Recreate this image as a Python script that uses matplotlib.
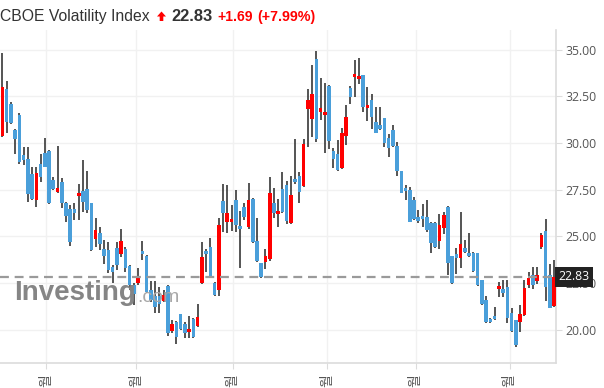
import matplotlib
matplotlib.use("Agg")
import matplotlib.pyplot as plt
from matplotlib.patches import Polygon
import numpy as np

# ---------------- data ----------------
opens = [30.38, 32.88, 32.08, 30.69, 31.49, 29.35, 29.13, 28.33, 26.95, 28.87,
         29.44, 29.56, 28.01, 27.38, 27.90, 26.78, 26.46, 26.46, 27.17, 27.42,
         27.53, 26.78, 24.87, 25.19, 24.31, 24.26, 23.37, 24.35, 24.03, 24.31,
         23.40, 22.40, 22.48, 24.17, 23.96, 22.12, 21.80, 21.81, 21.55, 22.33,
         19.94, 20.40, 20.83, 20.30, 19.85, 20.57, 20.21, 22.48, 24.22, 24.41,
         22.51, 22.12, 26.90, 25.78, 25.78, 26.94, 25.55, 26.58, 25.48, 26.99,
         24.76, 23.55, 23.63, 23.76, 26.79, 26.17, 27.51, 27.74, 25.69, 28.05,
         28.22, 27.71, 31.80, 31.26, 34.49, 31.67, 31.51, 33.05, 29.56, 29.40,
         28.64, 30.38, 32.92, 33.51, 33.44, 33.63, 31.88, 32.30, 31.13, 30.96,
         31.31, 30.24, 30.69, 29.83, 28.49, 27.60, 27.47, 26.94, 26.03, 26.08,
         26.04, 25.72, 25.72, 24.76, 25.42, 26.58, 23.94, 24.05, 23.85, 24.35,
         24.08, 24.12, 24.08, 22.65, 21.58, 20.55, 20.69, 22.16, 22.16, 22.30,
         20.87, 20.51, 20.39, 20.78, 22.39, 22.92, 22.62, 24.44, 25.30, 22.92,
         21.26]
highs = [34.80, 33.30, 32.20, 30.72, 31.60, 29.79, 29.76, 28.71, 28.69, 29.39,
         30.24, 29.62, 28.19, 29.83, 28.12, 26.83, 26.67, 26.76, 27.80, 29.08,
         28.49, 26.80, 25.96, 25.48, 24.78, 24.71, 23.45, 24.71, 25.37, 24.41,
         23.45, 22.50, 23.31, 24.74, 24.00, 22.62, 22.62, 22.30, 22.12, 22.39,
         20.51, 20.44, 20.85, 20.42, 20.73, 20.60, 21.35, 24.71, 24.30, 24.89,
         22.53, 25.96, 27.78, 27.74, 26.67, 27.47, 26.35, 26.76, 27.83, 27.02,
         25.96, 23.58, 24.30, 28.15, 27.57, 26.98, 28.45, 27.97, 28.22, 30.19,
         28.45, 30.19, 32.87, 34.17, 34.92, 33.46, 33.22, 33.08, 29.71, 30.15,
         30.78, 32.03, 33.05, 34.44, 34.53, 33.65, 33.01, 32.62, 31.94, 31.90,
         31.33, 30.46, 30.96, 30.05, 28.50, 27.74, 27.65, 27.12, 26.40, 26.71,
         26.94, 25.74, 25.74, 26.19, 26.31, 26.61, 23.96, 24.35, 26.28, 24.80,
         25.19, 24.17, 24.12, 22.67, 21.81, 20.60, 21.19, 22.56, 22.65, 22.65,
         21.14, 20.53, 21.31, 22.65, 23.10, 23.33, 23.33, 25.16, 25.92, 23.51,
         23.72]
lows = [30.30, 30.51, 31.01, 29.39, 28.85, 28.81, 26.85, 26.94, 26.55, 27.89,
        28.70, 26.74, 27.47, 27.33, 26.49, 25.74, 24.49, 25.87, 25.87, 26.28,
        26.23, 24.21, 24.44, 24.26, 23.51, 23.01, 22.51, 23.19, 23.90, 23.10,
        22.10, 21.31, 22.39, 23.75, 21.94, 21.49, 20.87, 20.90, 21.49, 19.67,
        19.83, 19.21, 19.98, 19.56, 19.53, 19.53, 20.15, 22.44, 23.10, 22.83,
        21.80, 21.80, 25.24, 25.19, 25.30, 25.24, 23.28, 25.87, 25.39, 24.62,
        23.63, 22.74, 23.23, 23.69, 25.96, 25.48, 26.26, 25.65, 25.65, 27.80,
        26.76, 27.62, 29.79, 30.33, 30.06, 31.22, 29.44, 29.65, 28.64, 28.51,
        28.60, 29.88, 32.06, 32.47, 33.14, 31.67, 31.19, 30.73, 30.51, 30.69,
        29.79, 29.26, 29.79, 28.24, 27.30, 26.94, 25.74, 25.87, 25.69, 25.51,
        25.24, 24.08, 24.35, 24.30, 25.12, 22.92, 22.44, 22.98, 23.28, 24.08,
        23.90, 23.10, 22.33, 21.31, 20.37, 20.37, 20.51, 21.76, 21.76, 20.37,
        19.88, 19.08, 19.88, 20.73, 22.21, 22.16, 22.44, 24.31, 21.55, 21.14,
        21.22]
closes = [32.98, 31.13, 31.05, 30.22, 28.99, 29.08, 27.28, 26.99, 28.37, 28.19,
          28.72, 26.76, 27.54, 27.58, 26.79, 26.10, 24.71, 26.23, 27.31, 26.85,
          26.40, 24.26, 25.32, 24.58, 23.94, 23.19, 23.10, 23.46, 24.74, 23.31,
          22.39, 21.90, 22.89, 24.03, 22.03, 21.58, 21.22, 21.35, 21.85, 19.83,
          20.30, 19.62, 20.05, 19.80, 19.98, 19.62, 20.66, 23.87, 24.05, 22.87,
          21.85, 25.60, 26.26, 26.26, 25.92, 25.60, 25.39, 26.04, 26.94, 24.71,
          23.69, 22.83, 23.94, 27.30, 26.23, 26.35, 26.31, 25.83, 27.21, 27.92,
          27.38, 29.94, 32.30, 32.62, 30.19, 31.85, 31.67, 30.12, 29.12, 28.55,
          30.51, 31.37, 32.47, 33.63, 33.58, 31.94, 32.03, 31.40, 30.54, 30.74,
          30.01, 29.74, 29.85, 28.51, 27.33, 27.44, 25.78, 25.90, 25.83, 25.90,
          25.33, 24.62, 24.41, 25.60, 26.14, 23.55, 22.51, 23.82, 24.57, 24.17,
          23.94, 23.15, 22.39, 21.35, 20.42, 20.42, 20.55, 22.30, 21.97, 20.63,
          19.92, 19.17, 20.82, 22.24, 22.78, 22.39, 22.92, 25.06, 22.30, 21.14,
          22.83]
month_ticks = [10.3, 31.6, 54.3, 76.5, 97.4, 119.5]
month_labels = ["월"] * 6
y_ticks = [20.0, 22.5, 25.0, 27.5, 30.0, 32.5, 35.0]
last_price = 22.83
title = "CBOE Volatility Index"
change_txt = "+1.69"
pct_txt = "(+7.99%)"

# ---------------- figure ----------------
W, H = 604, 388
fig = plt.figure(figsize=(W / 100, H / 100), dpi=100)
fig.patch.set_facecolor("white")
ax = fig.add_axes([0, 1 - 363 / H, 556 / W, (363 - 30) / H])

o = np.array(opens); c = np.array(closes)
hi = np.array(highs); lo = np.array(lows)
x = np.arange(len(o))
up = c > o
BLUE = "#4a9fda"
RED = "#ff0000"
cols = np.where(up, RED, BLUE)

ax.vlines(x, lo, hi, color="#262626", lw=1.1, zorder=3)
bottoms = np.minimum(o, c)
heights = np.maximum(np.abs(c - o), 0.16)
ax.bar(x, heights, bottom=bottoms, width=0.84, color=cols, edgecolor="none", zorder=4)

ax.axhline(last_price, color="#9a9a9a", lw=1.6, ls=(0, (4, 2.6)), zorder=5)

ymin = 35 - (363 - 49.5) / 18.67
ymax = 35 + (49.5 - 30) / 18.67
ax.set_ylim(ymin, ymax)
ax.set_xlim(-0.55, 130.45)

ax.yaxis.tick_right()
ax.set_yticks(y_ticks)
ax.set_yticklabels([f"{v:.2f}" for v in y_ticks])
ax.set_xticks(month_ticks)
ax.set_xticklabels(month_labels, rotation=90, family=["Noto Sans CJK KR", "DejaVu Sans"],
                   fontsize=10, color="#555555")
ax.tick_params(axis="y", length=4, color="#dcdcdc", labelcolor="#555555",
               labelsize=8.8, pad=3)
ax.tick_params(axis="x", length=4, color="#dcdcdc", pad=4)
for lab in ax.get_yticklabels():
    lab.set_family(["Open Sans", "DejaVu Sans"])

for s in ["top", "left"]:
    ax.spines[s].set_visible(False)
for s in ["right", "bottom"]:
    ax.spines[s].set_color("#dcdcdc")
    ax.spines[s].set_linewidth(1.2)

ax.grid(True, color="#f1f1f1", lw=1)
ax.set_axisbelow(True)

# last price box
ax.text(1.004, last_price, f"{last_price:.2f}", transform=ax.get_yaxis_transform(),
        ha="left", va="center", color="white", fontsize=8.8, family=["Open Sans", "DejaVu Sans"],
        bbox=dict(boxstyle="square,pad=0.3", facecolor="#222222", edgecolor="none"),
        zorder=10, clip_on=False)

# watermark
fig.text(14 / W, 1 - 300 / H, "Investing", fontsize=20, fontweight="bold",
         color="#858585", family="Liberation Sans", ha="left", va="baseline", zorder=0)
fig.text(137 / W, 1 - 302 / H, ".com", fontsize=14, color="#a8a8a8",
         family="Liberation Sans", ha="left", va="baseline", zorder=0)

# title
fig.text(0 / W, 1 - 21 / H, title, fontsize=11.3, color="#333333",
         family="Liberation Sans", ha="left", va="baseline")
arrow = Polygon([[157 / W, 1 - 16.5 / H], [161.5 / W, 1 - 11.5 / H], [166 / W, 1 - 16.5 / H],
                 [163.3 / W, 1 - 16.5 / H], [163.3 / W, 1 - 21 / H], [159.7 / W, 1 - 21 / H],
                 [159.7 / W, 1 - 16.5 / H]], closed=True, transform=fig.transFigure,
                facecolor=RED, edgecolor="none")
fig.patches.append(arrow)
fig.text(171 / W, 1 - 21 / H, f"{last_price:.2f}", fontsize=11.8, fontweight="bold",
         color="#333333", family="Liberation Sans", ha="left", va="baseline")
fig.text(217 / W, 1 - 21 / H, change_txt, fontsize=10, fontweight="bold",
         color=RED, family="Liberation Sans", ha="left", va="baseline")
fig.text(257 / W, 1 - 21 / H, pct_txt, fontsize=10.3, fontweight="bold",
         color=RED, family="Liberation Sans", ha="left", va="baseline")

fig.savefig("out.png", dpi=100, facecolor="white")
